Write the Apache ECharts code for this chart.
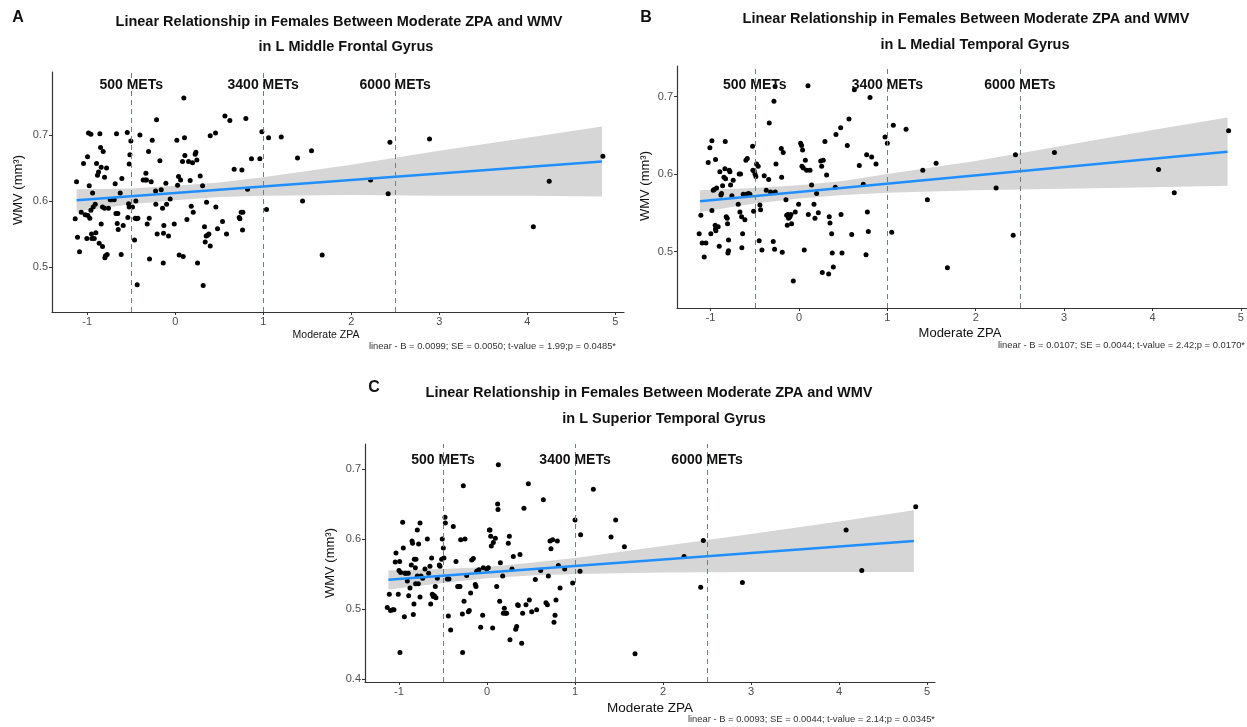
<!DOCTYPE html>
<html>
<head>
<meta charset="utf-8">
<title>Moderate ZPA vs WMV</title>
<script src="https://cdn.jsdelivr.net/npm/echarts@6/dist/echarts.min.js"></script>
<style>
  html, body { margin: 0; padding: 0; background: #fff; }
  #chart { width: 1247px; height: 727px; }
</style>
</head>
<body>
<div id="chart"></div>
<script>
// ---- data ----
const metX = [-0.5, 1, 2.5];
const metLabels = ['500 METs', '3400 METs', '6000 METs'];
const xTicks = [-1, 0, 1, 2, 3, 4, 5];
const yTicksAB = [0.5, 0.6, 0.7];
const yTicksC = [0.4, 0.5, 0.6, 0.7];

// fitted line ends and confidence band (x, lower, upper)
const fitX = [-1.12, 4.85];
const fitA = [0.601, 0.660];
const fitB = [0.565, 0.629];
const fitC = [0.5416, 0.597];
const bandX = [-1.12, -0.5, 0, 0.5, 1, 2, 3, 4, 4.85];
const bandALo = [0.584, 0.595, 0.601, 0.606, 0.608, 0.609, 0.608, 0.608, 0.607];
const bandAHi = [0.618, 0.619, 0.623, 0.628, 0.636, 0.655, 0.676, 0.696, 0.713];
const bandBLo = [0.551, 0.562, 0.5685, 0.573, 0.576, 0.579, 0.581, 0.583, 0.585];
const bandBHi = [0.579, 0.582, 0.5855, 0.591, 0.600, 0.617, 0.637, 0.657, 0.673];
const bandCLo = [0.528, 0.537, 0.544, 0.548, 0.550, 0.552, 0.553, 0.553, 0.553];
const bandCHi = [0.555, 0.557, 0.560, 0.566, 0.573, 0.590, 0.607, 0.625, 0.641];

const ptsA = [[-1.136,0.573],[-1.121,0.629],[-1.110,0.545],[-1.087,0.523],[-1.068,0.583],[-1.042,0.657],[-1.023,0.579],[-0.996,0.667],[-0.992,0.578],[-0.977,0.623],[-0.970,0.574],[-0.958,0.586],[-0.951,0.550],[-1.004,0.543],[-0.939,0.612],[-0.932,0.591],[-0.909,0.595],[-0.902,0.552],[-0.947,0.543],[-0.985,0.703],[-0.958,0.701],[-0.920,0.543],[-0.894,0.657],[-0.883,0.639],[-0.871,0.644],[-0.864,0.536],[-0.856,0.702],[-0.848,0.681],[-0.841,0.565],[-0.841,0.651],[-0.826,0.531],[-0.826,0.591],[-0.818,0.675],[-0.803,0.636],[-0.803,0.589],[-0.799,0.514],[-0.792,0.517],[-0.780,0.650],[-0.773,0.519],[-0.758,0.589],[-0.739,0.602],[-0.720,0.602],[-0.693,0.602],[-0.682,0.626],[-0.674,0.581],[-0.667,0.702],[-0.659,0.566],[-0.652,0.581],[-0.648,0.557],[-0.625,0.612],[-0.614,0.519],[-0.606,0.634],[-0.591,0.563],[-0.545,0.704],[-0.538,0.575],[-0.530,0.596],[-0.523,0.656],[-0.523,0.591],[-0.515,0.670],[-0.504,0.691],[-0.485,0.591],[-0.462,0.541],[-0.455,0.574],[-0.447,0.600],[-0.439,0.573],[-0.432,0.473],[-0.424,0.574],[-0.401,0.700],[-0.364,0.632],[-0.341,0.632],[-0.333,0.642],[-0.326,0.632],[-0.318,0.565],[-0.303,0.675],[-0.295,0.574],[-0.292,0.512],[-0.273,0.629],[-0.261,0.692],[-0.223,0.615],[-0.220,0.595],[-0.212,0.723],[-0.205,0.550],[-0.174,0.661],[-0.159,0.617],[-0.144,0.589],[-0.136,0.506],[-0.133,0.551],[-0.129,0.563],[-0.106,0.627],[-0.098,0.595],[-0.076,0.547],[-0.057,0.603],[-0.011,0.565],[0.019,0.692],[0.027,0.624],[0.038,0.637],[0.045,0.518],[0.061,0.632],[0.083,0.660],[0.091,0.516],[0.098,0.756],[0.106,0.696],[0.110,0.669],[0.133,0.572],[0.152,0.660],[0.170,0.631],[0.182,0.592],[0.205,0.583],[0.197,0.658],[0.227,0.671],[0.235,0.674],[0.246,0.662],[0.254,0.506],[0.284,0.638],[0.311,0.623],[0.318,0.472],[0.333,0.561],[0.341,0.538],[0.352,0.547],[0.356,0.598],[0.367,0.548],[0.383,0.550],[0.398,0.532],[0.398,0.699],[0.458,0.703],[0.462,0.591],[0.481,0.558],[0.538,0.569],[0.565,0.729],[0.583,0.550],[0.621,0.722],[0.670,0.648],[0.727,0.575],[0.735,0.573],[0.750,0.583],[0.758,0.647],[0.765,0.556],[0.769,0.583],[0.803,0.725],[0.822,0.618],[0.867,0.664],[0.962,0.664],[0.985,0.705],[1.038,0.587],[1.061,0.696],[1.205,0.697],[1.390,0.665],[1.447,0.600],[1.549,0.676],[1.670,0.518],[2.22,0.632],[2.42,0.611],[2.44,0.689],[2.89,0.694],[4.07,0.561],[4.25,0.630],[4.86,0.668]];

const ptsB = [[-1.129,0.523],[-1.110,0.547],[-1.095,0.511],[-1.072,0.493],[-1.053,0.511],[-1.027,0.615],[-1.008,0.634],[-0.997,0.523],[-0.985,0.553],[-0.985,0.643],[-0.970,0.579],[-0.959,0.580],[-0.948,0.534],[-0.944,0.529],[-0.940,0.527],[-0.944,0.619],[-0.932,0.582],[-0.914,0.532],[-0.902,0.507],[-0.895,0.603],[-0.883,0.573],[-0.876,0.575],[-0.864,0.585],[-0.849,0.596],[-0.838,0.607],[-0.834,0.642],[-0.830,0.594],[-0.823,0.545],[-0.812,0.543],[-0.808,0.536],[-0.804,0.498],[-0.797,0.501],[-0.797,0.515],[-0.789,0.605],[-0.781,0.603],[-0.774,0.586],[-0.759,0.572],[-0.744,0.592],[-0.687,0.561],[-0.676,0.600],[-0.668,0.551],[-0.661,0.600],[-0.649,0.545],[-0.646,0.505],[-0.638,0.523],[-0.631,0.574],[-0.612,0.541],[-0.600,0.618],[-0.593,0.574],[-0.585,0.620],[-0.570,0.575],[-0.555,0.574],[-0.525,0.636],[-0.521,0.605],[-0.513,0.552],[-0.506,0.604],[-0.498,0.600],[-0.487,0.597],[-0.479,0.613],[-0.461,0.610],[-0.450,0.514],[-0.442,0.560],[-0.434,0.554],[-0.419,0.502],[-0.393,0.598],[-0.370,0.579],[-0.343,0.593],[-0.336,0.666],[-0.321,0.577],[-0.291,0.513],[-0.283,0.694],[-0.268,0.577],[-0.276,0.503],[-0.260,0.613],[-0.270,0.713],[-0.200,0.633],[-0.196,0.596],[-0.189,0.499],[-0.178,0.628],[-0.147,0.567],[-0.139,0.547],[-0.132,0.534],[-0.125,0.548],[-0.117,0.543],[-0.102,0.545],[-0.091,0.548],[-0.083,0.536],[-0.064,0.462],[-0.042,0.551],[-0.004,0.561],[0.019,0.640],[0.030,0.637],[0.034,0.610],[0.041,0.631],[0.049,0.608],[0.060,0.502],[0.072,0.618],[0.087,0.605],[0.102,0.714],[0.106,0.548],[0.125,0.605],[0.143,0.586],[0.170,0.561],[0.181,0.543],[0.200,0.575],[0.219,0.550],[0.246,0.617],[0.257,0.610],[0.264,0.473],[0.275,0.618],[0.294,0.642],[0.313,0.599],[0.336,0.471],[0.343,0.545],[0.351,0.537],[0.370,0.523],[0.377,0.498],[0.389,0.480],[0.411,0.583],[0.419,0.651],[0.472,0.660],[0.476,0.548],[0.487,0.498],[0.547,0.637],[0.566,0.671],[0.597,0.522],[0.627,0.709],[0.683,0.611],[0.728,0.587],[0.759,0.496],[0.766,0.625],[0.774,0.551],[0.785,0.526],[0.804,0.699],[0.823,0.622],[0.872,0.613],[0.974,0.648],[1.000,0.640],[1.050,0.525],[1.068,0.663],[1.212,0.658],[1.401,0.605],[1.453,0.567],[1.552,0.614],[1.680,0.479],[2.231,0.582],[2.424,0.521],[2.450,0.625],[2.891,0.628],[4.069,0.606],[4.247,0.576],[4.862,0.656]];

const ptsC = [[-1.133,0.502],[-1.110,0.521],[-1.095,0.498],[-1.072,0.499],[-1.057,0.499],[-1.042,0.567],[-1.034,0.580],[-1.008,0.521],[-1.000,0.555],[-0.992,0.568],[-0.989,0.438],[-0.981,0.552],[-0.958,0.624],[-0.951,0.587],[-0.939,0.489],[-0.932,0.551],[-0.920,0.551],[-0.905,0.540],[-0.894,0.551],[-0.890,0.519],[-0.875,0.530],[-0.860,0.563],[-0.852,0.597],[-0.845,0.594],[-0.837,0.492],[-0.830,0.507],[-0.826,0.571],[-0.814,0.559],[-0.811,0.536],[-0.807,0.571],[-0.792,0.613],[-0.792,0.547],[-0.780,0.536],[-0.777,0.593],[-0.761,0.623],[-0.761,0.517],[-0.750,0.547],[-0.731,0.544],[-0.705,0.557],[-0.678,0.600],[-0.663,0.551],[-0.648,0.561],[-0.640,0.507],[-0.629,0.573],[-0.621,0.521],[-0.610,0.518],[-0.598,0.519],[-0.587,0.532],[-0.580,0.516],[-0.564,0.544],[-0.542,0.563],[-0.534,0.561],[-0.515,0.571],[-0.508,0.600],[-0.496,0.587],[-0.489,0.573],[-0.477,0.631],[-0.473,0.623],[-0.451,0.543],[-0.439,0.490],[-0.432,0.543],[-0.413,0.470],[-0.383,0.618],[-0.352,0.568],[-0.333,0.532],[-0.322,0.532],[-0.307,0.532],[-0.299,0.599],[-0.280,0.493],[-0.277,0.438],[-0.269,0.676],[-0.261,0.511],[-0.250,0.600],[-0.231,0.548],[-0.212,0.496],[-0.201,0.498],[-0.186,0.523],[-0.174,0.570],[-0.155,0.572],[-0.133,0.535],[-0.125,0.532],[-0.117,0.554],[-0.098,0.555],[-0.091,0.556],[-0.072,0.474],[-0.049,0.491],[-0.042,0.559],[-0.004,0.557],[0.015,0.559],[0.027,0.613],[0.034,0.613],[0.042,0.604],[0.049,0.590],[0.064,0.473],[0.072,0.595],[0.095,0.601],[0.110,0.532],[0.121,0.650],[0.125,0.642],[0.129,0.706],[0.144,0.511],[0.152,0.566],[0.178,0.547],[0.186,0.494],[0.197,0.501],[0.212,0.494],[0.223,0.494],[0.242,0.594],[0.254,0.604],[0.261,0.456],[0.284,0.557],[0.299,0.575],[0.326,0.471],[0.337,0.475],[0.348,0.506],[0.356,0.505],[0.375,0.578],[0.394,0.451],[0.405,0.494],[0.420,0.644],[0.443,0.506],[0.470,0.679],[0.481,0.513],[0.508,0.496],[0.549,0.542],[0.564,0.499],[0.610,0.555],[0.640,0.656],[0.670,0.509],[0.686,0.506],[0.697,0.547],[0.716,0.597],[0.727,0.586],[0.746,0.599],[0.761,0.481],[0.773,0.491],[0.784,0.513],[0.799,0.597],[0.811,0.562],[0.830,0.530],[0.883,0.557],[0.973,0.537],[1.000,0.627],[1.057,0.554],[1.064,0.606],[1.208,0.671],[1.409,0.603],[1.462,0.627],[1.561,0.589],[1.682,0.436],[2.239,0.575],[2.428,0.531],[2.458,0.598],[2.902,0.538],[4.080,0.613],[4.258,0.555],[4.871,0.646]];

// ---- layout ----
const FONT = '"Liberation Sans", Arial, sans-serif';
const panels = [
  { grid: { left: 52, top: 72, width: 572, height: 240 }, x: [-1.40, 5.10], y: [0.4318, 0.7955], yTicks: yTicksAB,
    pts: ptsA, fit: fitA, lo: bandALo, hi: bandAHi, metY: 0.776 },
  { grid: { left: 677, top: 66, width: 570, height: 242 }, x: [-1.38, 5.07], y: [0.4271, 0.7396], yTicks: yTicksAB,
    pts: ptsB, fit: fitB, lo: bandBLo, hi: bandBHi, metY: 0.715 },
  { grid: { left: 365, top: 444, width: 570, height: 238 }, x: [-1.386, 5.09], y: [0.3957, 0.7357], yTicks: yTicksC,
    pts: ptsC, fit: fitC, lo: bandCLo, hi: bandCHi, metY: 0.713 }
];

const grids = [], xAxes = [], yAxes = [], series = [];

panels.forEach((p, i) => {
  grids.push(p.grid);
  xAxes.push({
    type: 'value', gridIndex: i, min: p.x[0], max: p.x[1],
    axisLine: { show: true, onZero: false, lineStyle: { color: '#333', width: 1.2 } },
    axisTick: { show: true, customValues: xTicks, length: 3, lineStyle: { color: '#333' } },
    axisLabel: { customValues: xTicks, color: '#4d4d4d', fontSize: 11, fontFamily: FONT, margin: 4,
      formatter: v => String(Math.round(v)) },
    splitLine: { show: false }
  });
  yAxes.push({
    type: 'value', gridIndex: i, min: p.y[0], max: p.y[1],
    axisLine: { show: true, onZero: false, lineStyle: { color: '#333', width: 1.2 } },
    axisTick: { show: true, customValues: p.yTicks, length: 3, lineStyle: { color: '#333' } },
    axisLabel: { customValues: p.yTicks, color: '#4d4d4d', fontSize: 11, fontFamily: FONT, margin: 4,
      formatter: v => v.toFixed(1) },
    splitLine: { show: false }
  });

  const band = bandX.map((x, k) => [x, p.lo[k], p.hi[k]]);
  series.push({
    type: 'custom', xAxisIndex: i, yAxisIndex: i, z: 1, silent: true,
    data: band, encode: { x: 0, y: [1, 2] },
    renderItem: (params, api) => {
      if (params.dataIndex !== 0) return null;
      const top = band.map(r => api.coord([r[0], r[2]]));
      const bot = band.map(r => api.coord([r[0], r[1]])).reverse();
      return { type: 'polygon', shape: { points: top.concat(bot) }, style: { fill: '#d6d6d6' } };
    }
  });
  series.push({
    type: 'scatter', xAxisIndex: i, yAxisIndex: i, z: 3, silent: true,
    data: p.pts, symbolSize: 5, itemStyle: { color: '#000', opacity: 1 },
    markLine: {
      silent: true, symbol: ['none', 'none'], label: { show: false },
      lineStyle: { type: [5, 4], color: '#67847f', width: 1 },
      data: metX.map(x => ({ xAxis: x }))
    }
  });
  series.push({
    type: 'line', xAxisIndex: i, yAxisIndex: i, z: 4, silent: true,
    data: fitX.map((x, k) => [x, p.fit[k]]), symbol: 'none',
    lineStyle: { color: '#1f8fff', width: 2.5 }
  });
});

function txt(text, x, y, size, weight) {
  return {
    type: 'text', x: x, y: y, silent: true, z: 10,
    style: { text: text, font: (weight ? weight + ' ' : '') + size + 'px ' + FONT, fill: '#111',
      align: 'center', verticalAlign: 'middle' }
  };
}
function vtxt(text, x, y, size) {
  const t = txt(text, x, y, size);
  t.rotation = Math.PI / 2;
  return t;
}
function stat(text, x, y) {
  const t = txt(text, x, y, 9.4);
  t.style.align = 'right';
  t.style.fill = '#333';
  return t;
}

const title1 = 'Linear Relationship in Females Between Moderate ZPA and WMV';
const graphics = [
  txt('A', 18, 18, 16, 'bold'), txt('B', 646, 18, 16, 'bold'), txt('C', 374, 388, 16, 'bold'),
  txt(title1, 339, 22, 14.5, 'bold'), txt('in L Middle Frontal Gyrus', 346, 47, 14.5, 'bold'),
  txt(title1, 966, 19, 14.5, 'bold'), txt('in L Medial Temporal Gyrus', 975, 45, 14.5, 'bold'),
  txt(title1, 649, 393, 14.5, 'bold'), txt('in L Superior Temporal Gyrus', 664, 419, 14.5, 'bold'),
  txt('Moderate ZPA', 326, 335, 10.5), txt('Moderate ZPA', 960, 333, 13), txt('Moderate ZPA', 650, 708, 13.5),
  vtxt('WMV (mm³)', 18, 190, 13), vtxt('WMV (mm³)', 645, 186, 13), vtxt('WMV (mm³)', 330, 563, 13),
  stat('linear - B = 0.0099; SE = 0.0050; t-value = 1.99;p = 0.0485*', 616, 346),
  stat('linear - B = 0.0107; SE = 0.0044; t-value = 2.42;p = 0.0170*', 1245, 345),
  stat('linear - B = 0.0093; SE = 0.0044; t-value = 2.14;p = 0.0345*', 935, 719)
];

const chart = echarts.init(document.getElementById('chart'));
chart.setOption({
  animation: false,
  backgroundColor: '#fff',
  grid: grids,
  xAxis: xAxes,
  yAxis: yAxes,
  series: series
});

// MET labels placed through each panel's own axes
panels.forEach((p, i) => {
  metX.forEach((x, k) => {
    const pos = chart.convertToPixel({ xAxisIndex: i, yAxisIndex: i }, [x, p.metY]);
    graphics.push(txt(metLabels[k], pos[0], pos[1], 14, 'bold'));
  });
});
chart.setOption({ graphic: graphics });
</script>
</body>
</html>
